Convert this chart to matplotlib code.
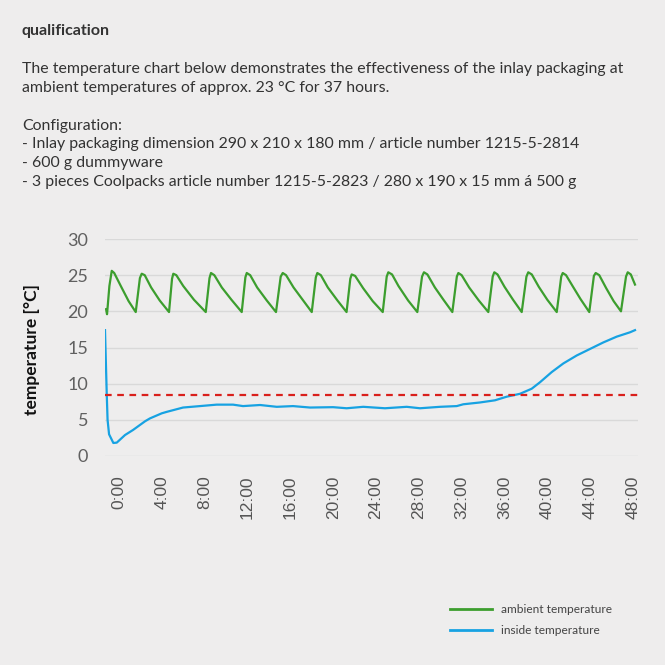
import matplotlib
matplotlib.use("Agg")
import matplotlib.pyplot as plt
from matplotlib.lines import Line2D

# ambient temperature (hours, °C)
amb_t = [-1.21, -1.12, -0.9, -0.68, -0.45, 0.2, 0.9, 1.56,
         1.95, 2.12, 2.4, 3.0, 3.8, 4.67,
         4.95, 5.07, 5.35, 6.0, 7.0, 8.10,
         8.45, 8.59, 8.9, 9.6, 10.5, 11.46,
         11.8, 11.93, 12.25, 12.9, 13.8, 14.66,
         15.1, 15.29, 15.6, 16.3, 17.2, 18.0,
         18.38, 18.52, 18.85, 19.5, 20.4, 21.25,
         21.6, 21.73, 22.05, 22.8, 23.7, 24.63,
         25.0, 25.15, 25.5, 26.1, 27.0, 27.86,
         28.3, 28.48, 28.8, 29.5, 30.3, 31.13,
         31.55, 31.69, 32.0, 32.7, 33.6, 34.49,
         34.9, 35.05, 35.35, 36.0, 36.8, 37.61,
         38.05, 38.22, 38.55, 39.2, 40.0, 40.88,
         41.3, 41.44, 41.75, 42.4, 43.1, 43.92,
         44.35, 44.52, 44.85, 45.5, 46.2, 46.88,
         47.35, 47.51, 47.8, 48.19]
amb_v = [20.3, 19.6, 23.5, 25.6, 25.3, 23.4, 21.4, 19.9,
         24.6, 25.2, 25.0, 23.3, 21.5, 19.9,
         24.5, 25.2, 25.0, 23.5, 21.6, 19.9,
         24.6, 25.3, 25.0, 23.3, 21.6, 19.9,
         24.7, 25.3, 25.0, 23.3, 21.5, 19.9,
         24.8, 25.3, 25.0, 23.3, 21.5, 19.9,
         24.7, 25.3, 25.0, 23.3, 21.5, 19.9,
         24.5, 25.1, 24.9, 23.2, 21.4, 19.9,
         24.8, 25.4, 25.1, 23.5, 21.5, 19.9,
         24.8, 25.4, 25.1, 23.3, 21.6, 19.9,
         24.8, 25.3, 25.0, 23.3, 21.5, 19.9,
         24.8, 25.4, 25.1, 23.4, 21.6, 19.9,
         24.8, 25.4, 25.1, 23.4, 21.6, 19.9,
         24.8, 25.3, 25.0, 23.4, 21.7, 19.9,
         24.9, 25.3, 25.0, 23.2, 21.4, 20.0,
         24.8, 25.4, 25.1, 23.7]

# inside temperature
ins_t = [-1.31, -1.15, -1.07, -0.93, -0.53, -0.21, 0.56, 1.31, 2.43, 2.89,
         3.99, 4.45, 5.98, 7.56, 9.12, 10.65, 11.58, 13.17, 14.73, 16.25,
         17.84, 19.99, 21.26, 22.81, 24.84, 26.87, 28.11, 29.98, 31.54, 32.15,
         33.71, 35.11, 36.21, 37.45, 38.54, 39.32, 40.41, 41.50, 42.75, 43.99,
         45.23, 46.48, 47.72, 48.19]
ins_v = [17.4, 8.7, 5.0, 3.0, 1.8, 1.85, 2.9, 3.6, 4.8, 5.2,
         5.9, 6.1, 6.7, 6.9, 7.1, 7.1, 6.9, 7.05, 6.8, 6.9,
         6.7, 6.75, 6.6, 6.8, 6.6, 6.8, 6.6, 6.8, 6.9, 7.15,
         7.4, 7.7, 8.2, 8.6, 9.3, 10.2, 11.6, 12.8, 13.9, 14.8,
         15.7, 16.5, 17.1, 17.4]

limit_value = 8.4

hour_ticks = list(range(0, 49, 4))
hour_labels = [f"{h}:00" for h in hour_ticks]
y_ticks = [0, 5, 10, 15, 20, 25, 30]

BG = "#eeeded"
GREEN = "#3c9e2e"
BLUE = "#17a2e2"
RED = "#d9201c"

plt.rcParams["font.family"] = ["Lato", "DejaVu Sans"]

fig = plt.figure(figsize=(6.65, 6.65), dpi=100, facecolor=BG)

# header text
fig.text(22 / 665, 1 - 31 / 665, "qualification", fontsize=11.5, fontweight="bold",
         color="#333333", va="center")
body = ("The temperature chart below demonstrates the effectiveness of the inlay packaging at\n"
        "ambient temperatures of approx. 23 °C for 37 hours.\n"
        "\n"
        "Configuration:\n"
        "- Inlay packaging dimension 290 x 210 x 180 mm / article number 1215-5-2814\n"
        "- 600 g dummyware\n"
        "- 3 pieces Coolpacks article number 1215-5-2823 / 280 x 190 x 15 mm á 500 g")
fig.text(22 / 665, 1 - 62 / 665, body, fontsize=11.4, color="#333333", va="top",
         linespacing=1.44)

ax = fig.add_axes([105 / 665, 1 - 456 / 665, 533 / 665, 217 / 665])
ax.set_facecolor(BG)

ax.plot(amb_t, amb_v, color=GREEN, lw=1.6)
ax.plot(ins_t, ins_v, color=BLUE, lw=1.6)
ax.axhline(limit_value, color=RED, lw=1.6, ls=(0, (3, 2.5)))

ax.set_xlim(-1.31, 48.47)
ax.set_ylim(0, 30)
ax.set_yticks(y_ticks)
ax.set_xticks(hour_ticks)
ax.set_xticklabels(hour_labels, rotation=90, family="Liberation Sans")
ax.tick_params(axis="y", length=0, pad=12, labelsize=13, labelcolor="#606060")
ax.tick_params(axis="x", length=0, pad=14, labelsize=12.5, labelcolor="#555555")
ax.grid(axis="y", color="#d9d9d9", lw=1)
ax.set_axisbelow(True)
for s in ax.spines.values():
    s.set_visible(False)

fig.text(32 / 665, 1 - 350 / 665, "temperature [°C]", rotation=90, fontsize=12.5,
         fontweight="bold", color="#111111", ha="center", va="center")

handles = [Line2D([], [], color=GREEN, lw=2), Line2D([], [], color=BLUE, lw=2)]
leg = fig.legend(handles, ["ambient temperature", "inside temperature"],
                 loc="upper left", bbox_to_anchor=(439 / 665, 1 - 593 / 665),
                 frameon=False, fontsize=8.6, handlelength=3.5, handletextpad=0.75,
                 labelspacing=0.85, labelcolor="#444444")

fig.savefig("out.png", dpi=100, facecolor=BG)
